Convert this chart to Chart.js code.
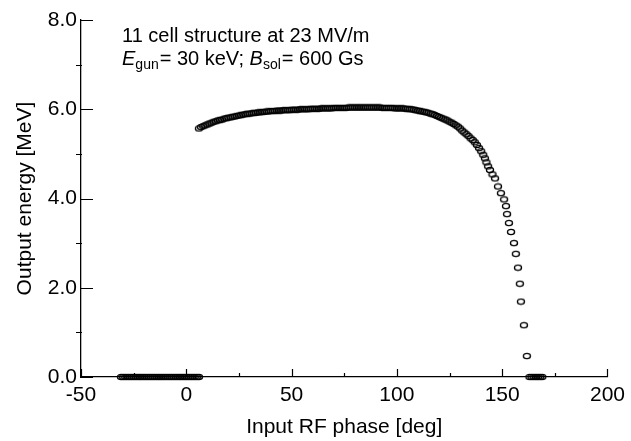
<!DOCTYPE html>
<html>
<head>
<meta charset="utf-8">
<script src="https://cdn.jsdelivr.net/npm/chart.js@4.4.0/dist/chart.umd.min.js"></script>
<style>
  html, body { margin: 0; padding: 0; background: #fff; }
  #wrap { width: 631px; height: 441px; }
</style>
</head>
<body>
<div id="wrap"><canvas id="chart" width="631" height="441"></canvas></div>
<script>
// beam below threshold (zero energy) at low and high phases
const zeroPhase = [-31, -30, -29, -28, -27, -26, -25, -24, -23, -22, -21, -20, -19, -18, -17, -16,
    -15, -14, -13, -12, -11, -10, -9, -8, -7, -6, -5, -4, -3, -2, -1, 0, 1, 2, 3, 4, 5, 6,
    163, 164, 165, 166, 167, 168, 169];
const zeroEnergy = [0, 0, 0, 0, 0, 0, 0, 0, 0, 0, 0, 0, 0, 0, 0, 0,
    0, 0, 0, 0, 0, 0, 0, 0, 0, 0, 0, 0, 0, 0, 0, 0, 0, 0, 0, 0, 0, 0,
    0, 0, 0, 0, 0, 0, 0];

// accelerated part of the phase scan
const curvePhase = [6, 7, 8, 9, 10, 11, 12, 13, 14, 15, 16, 17, 18, 19, 20, 21, 22, 23, 24, 25,
    26, 27, 28, 29, 30, 31, 32, 33, 34, 35, 36, 37, 38, 39, 40, 41, 42, 43, 44, 45,
    46, 47, 48, 49, 50, 51, 52, 53, 54, 55, 56, 57, 58, 59, 60, 61, 62, 63, 64, 65,
    66, 67, 68, 69, 70, 71, 72, 73, 74, 75, 76, 77, 78, 79, 80, 81, 82, 83, 84, 85,
    86, 87, 88, 89, 90, 91, 92, 93, 94, 95, 96, 97, 98, 99, 100, 101, 102, 103, 104, 105,
    106, 107, 108, 109, 110, 111, 112, 113, 114, 115, 116, 117, 118, 119, 120, 121, 122, 123, 124,
    125, 126, 127, 128, 129, 130, 131, 132, 133, 134, 135, 136, 137, 138, 139, 140, 141,
    141.8, 142.5, 143.3, 144.2, 145.4, 146.6, 148.0, 149.4, 150.9, 151.8, 152.3, 153.2,
    154.2, 155.6, 156.5, 157.5, 158.4, 158.9, 160.3, 161.7];
const curveEnergy = [5.57, 5.60, 5.62, 5.64, 5.66, 5.68, 5.70, 5.72, 5.73, 5.75, 5.76, 5.77, 5.79, 5.80, 5.81, 5.82, 5.83, 5.84, 5.85, 5.86,
    5.87, 5.88, 5.89, 5.90, 5.90, 5.91, 5.92, 5.92, 5.93, 5.93, 5.94, 5.94, 5.95, 5.95, 5.96, 5.96, 5.96, 5.97, 5.97, 5.97,
    5.98, 5.98, 5.98, 5.98, 5.99, 5.99, 5.99, 5.99, 6.00, 6.00, 6.00, 6.00, 6.00, 6.01, 6.01, 6.01, 6.01, 6.01, 6.02, 6.02,
    6.02, 6.02, 6.02, 6.02, 6.03, 6.03, 6.03, 6.03, 6.03, 6.03, 6.03, 6.04, 6.04, 6.04, 6.04, 6.04, 6.04, 6.04, 6.04, 6.04,
    6.04, 6.04, 6.04, 6.04, 6.04, 6.04, 6.04, 6.03, 6.03, 6.03, 6.03, 6.03, 6.03, 6.02, 6.02, 6.02, 6.02, 6.02, 6.01, 6.01,
    6.00, 6.00, 5.99, 5.98, 5.97, 5.96, 5.95, 5.94, 5.93, 5.92, 5.90, 5.89, 5.87, 5.85, 5.83, 5.81, 5.79, 5.77, 5.75,
    5.72, 5.70, 5.67, 5.64, 5.61, 5.57, 5.52, 5.48, 5.44, 5.40, 5.35, 5.31, 5.26, 5.20, 5.13, 5.06, 4.98,
    4.90, 4.81, 4.72, 4.64, 4.54, 4.45, 4.27, 4.12, 3.98, 3.83, 3.65, 3.45,
    3.25, 3.00, 2.76, 2.45, 2.09, 1.69, 1.16, 0.47];

const xMajor = [-50, 0, 50, 100, 150, 200];
const xMinor = [-25, 25, 75, 125, 175];
const yMajor = [0, 2, 4, 6, 8];
const yMinor = [1, 3, 5, 7];

const FONT = '"Liberation Sans", Arial, Helvetica, sans-serif';

// open elliptical marker like the scanned plot
function ellipseMark() {
    const c = document.createElement('canvas');
    c.width = 10;
    c.height = 8;
    const g = c.getContext('2d');
    g.strokeStyle = '#000';
    g.lineWidth = 1.4;
    g.beginPath();
    g.ellipse(5, 4, 3.5, 2.6, 0, 0, Math.PI * 2);
    g.stroke();
    return c;
}
const mark = ellipseMark();

const points = [];
zeroPhase.forEach((p, i) => points.push({x: p, y: zeroEnergy[i]}));
curvePhase.forEach((p, i) => points.push({x: p, y: curveEnergy[i]}));

// inward major ticks, short minor ticks
const tickMarks = {
    id: 'tickMarks',
    afterDraw(chart) {
        const {ctx, chartArea: a, scales: {x, y}} = chart;
        ctx.save();
        ctx.strokeStyle = '#000';
        ctx.lineWidth = 1.2;
        ctx.beginPath();
        xMajor.forEach(v => {
            const px = Math.round(x.getPixelForValue(v)) + 0.5;
            ctx.moveTo(px, a.bottom);
            ctx.lineTo(px, a.bottom - 8);
        });
        xMinor.forEach(v => {
            const px = Math.round(x.getPixelForValue(v)) + 0.5;
            ctx.moveTo(px, a.bottom);
            ctx.lineTo(px, a.bottom - 4);
        });
        yMajor.forEach(v => {
            const py = Math.round(y.getPixelForValue(v)) + 0.5;
            ctx.moveTo(a.left, py);
            ctx.lineTo(a.left + 12, py);
        });
        yMinor.forEach(v => {
            const py = Math.round(y.getPixelForValue(v)) + 0.5;
            ctx.moveTo(a.left - 5, py);
            ctx.lineTo(a.left + 1, py);
        });
        ctx.stroke();
        ctx.restore();
    }
};

// the two lines of text in the upper left
const note = {
    id: 'note',
    afterDraw(chart) {
        const ctx = chart.ctx;
        ctx.save();
        ctx.fillStyle = '#000';
        ctx.textBaseline = 'alphabetic';
        ctx.textAlign = 'left';
        ctx.font = '20px ' + FONT;
        ctx.fillText('11 cell structure at 23 MV/m', 122, 42);

        const parts = [
            ['E', 'italic 20px ' + FONT, 0],
            ['gun', '14px ' + FONT, 4],
            ['= 30 keV; ', '20px ' + FONT, 0],
            ['B', 'italic 20px ' + FONT, 0],
            ['sol', '14px ' + FONT, 4],
            ['= 600 Gs', '20px ' + FONT, 0]
        ];
        let xPos = 122;
        parts.forEach(([t, f, dy]) => {
            ctx.font = f;
            ctx.fillText(t, xPos, 65 + dy);
            xPos += ctx.measureText(t).width + (dy ? 1 : 0);
        });
        ctx.restore();
    }
};

new Chart(document.getElementById('chart'), {
    type: 'scatter',
    data: {
        datasets: [{
            data: points,
            showLine: false,
            pointStyle: mark,
            pointRadius: 4,
            pointHoverRadius: 4,
            clip: false
        }]
    },
    options: {
        responsive: false,
        animation: false,
        devicePixelRatio: 1,
        layout: { padding: { top: 20, right: 21, left: 0, bottom: 0 } },
        plugins: {
            legend: { display: false },
            tooltip: { enabled: false }
        },
        scales: {
            x: {
                type: 'linear',
                min: -50,
                max: 200,
                afterFit: s => { s.height = 64; },
                grid: { display: false, drawTicks: false },
                border: { display: true, color: '#000', width: 1.3 },
                ticks: {
                    stepSize: 50,
                    padding: 6,
                    color: '#000',
                    font: { family: FONT, size: 21 }
                },
                title: {
                    display: true,
                    text: 'Input RF phase [deg]',
                    color: '#000',
                    font: { family: FONT, size: 21 },
                    padding: { top: 0, bottom: 1 }
                }
            },
            y: {
                min: 0,
                max: 8,
                afterFit: s => { s.width = 81; },
                grid: { display: false, drawTicks: false },
                border: { display: true, color: '#000', width: 1.3 },
                ticks: {
                    stepSize: 2,
                    padding: 4,
                    color: '#000',
                    font: { family: FONT, size: 21 },
                    callback: v => v.toFixed(1)
                },
                title: {
                    display: true,
                    text: 'Output energy [MeV]',
                    color: '#000',
                    font: { family: FONT, size: 21 },
                    padding: { top: 13, bottom: 0 }
                }
            }
        }
    },
    plugins: [tickMarks, note]
});
</script>
</body>
</html>
